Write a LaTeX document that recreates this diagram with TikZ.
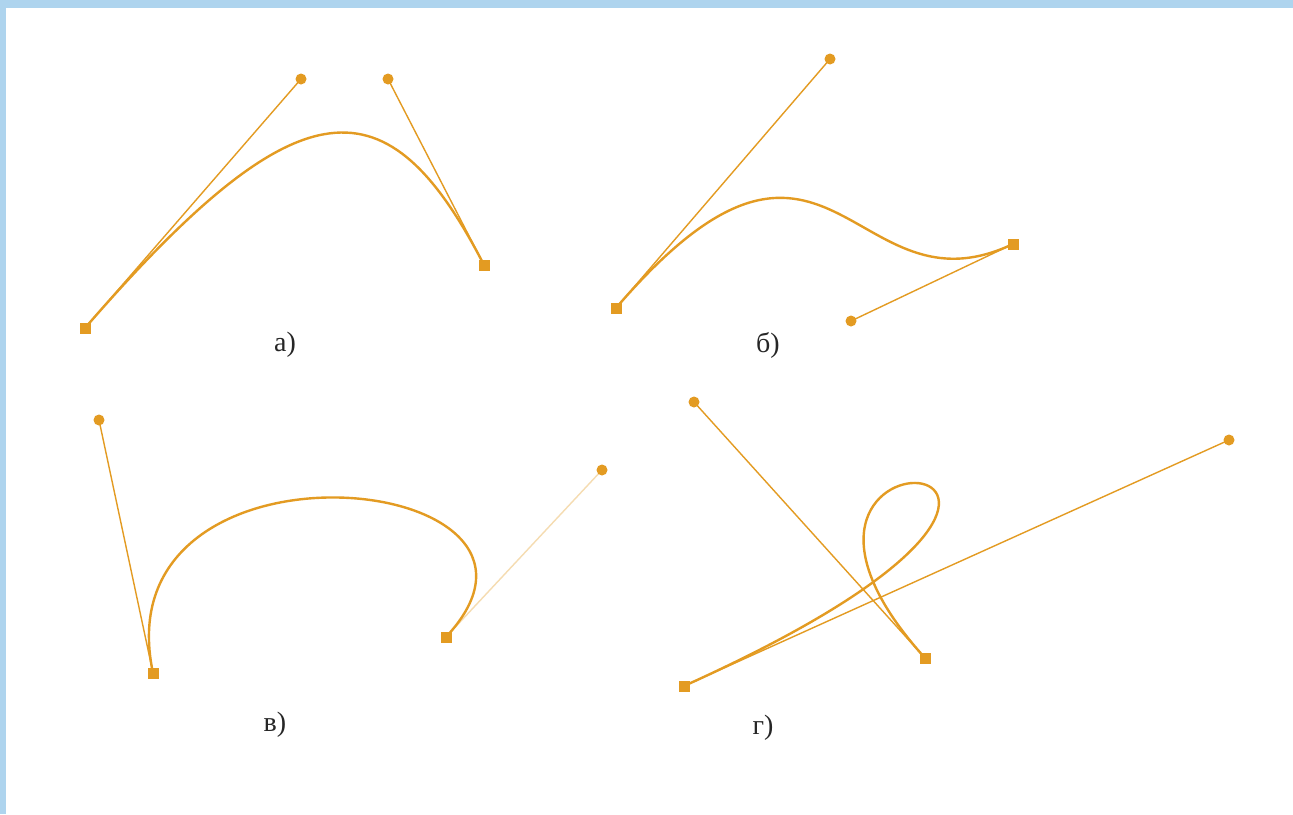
\documentclass[tikz,border=0pt]{standalone}
\usepackage{fontspec}
\setmainfont{Liberation Serif}
\begin{document}
\begin{tikzpicture}[x=1pt,y=-1pt,
  ctrl/.style={circle,fill=bzcol,inner sep=0pt,minimum size=11pt},
  endp/.style={rectangle,fill=bzcol,inner sep=0pt,minimum size=11pt},
  handle/.style={draw=bzcol,line width=1.4pt},
  curve/.style={draw=bzcol,line width=2.4pt},
  lbl/.style={font=\fontsize{28}{30}\selectfont,text=black!85}]
\definecolor{bzcol}{HTML}{E39B22}
\definecolor{frame}{HTML}{AED4EE}
\useasboundingbox (0,0) rectangle (1293,814);
\fill[frame] (0,0) rectangle (1293,814);
\fill[white] (6,8) rectangle (1293,814);
% panel a
\coordinate (a0) at (85,328);
\coordinate (a1) at (301,79);
\coordinate (a2) at (388,79);
\coordinate (a3) at (484,265);
\path[handle] (a0) -- (a1);
\path[handle] (a3) -- (a2);
\path[curve] (a0) .. controls (a1) and (a2) .. (a3);
\node[endp] (A0) at (a0) {};
\node[ctrl] (A1) at (a1) {};
\node[ctrl] (A2) at (a2) {};
\node[endp] (A3) at (a3) {};
\node[lbl] (la) at (285,345) {а)};
% panel b
\coordinate (b0) at (616,308);
\coordinate (b1) at (830,59);
\coordinate (b2) at (851,321);
\coordinate (b3) at (1013,244);
\path[handle] (b0) -- (b1);
\path[handle] (b3) -- (b2);
\path[curve] (b0) .. controls (b1) and (b2) .. (b3);
\node[endp] (B0) at (b0) {};
\node[ctrl] (B1) at (b1) {};
\node[ctrl] (B2) at (b2) {};
\node[endp] (B3) at (b3) {};
\node[lbl] (lb) at (768,345) {б)};
% panel v
\coordinate (c0) at (153,673);
\coordinate (c1) at (99,420);
\coordinate (c2) at (602,470);
\coordinate (c3) at (446,637);
\path[handle] (c0) -- (c1);
\path[handle,draw opacity=0.35] (c3) -- (c2);
\path[curve] (c0) .. controls (c1) and (c2) .. (c3);
\node[endp] (C0) at (c0) {};
\node[ctrl] (C1) at (c1) {};
\node[ctrl] (C2) at (c2) {};
\node[endp] (C3) at (c3) {};
\node[lbl] (lc) at (275,725) {в)};
% panel g
\coordinate (d0) at (684,686);
\coordinate (d1) at (1229,440);
\coordinate (d2) at (694,402);
\coordinate (d3) at (925,658);
\path[handle] (d0) -- (d1);
\path[handle] (d3) -- (d2);
\path[curve] (d0) .. controls (d1) and (d2) .. (d3);
\node[endp] (D0) at (d0) {};
\node[ctrl] (D1) at (d1) {};
\node[ctrl] (D2) at (d2) {};
\node[endp] (D3) at (d3) {};
\node[lbl] (ld) at (763,728) {г)};
\end{tikzpicture}
\end{document}
